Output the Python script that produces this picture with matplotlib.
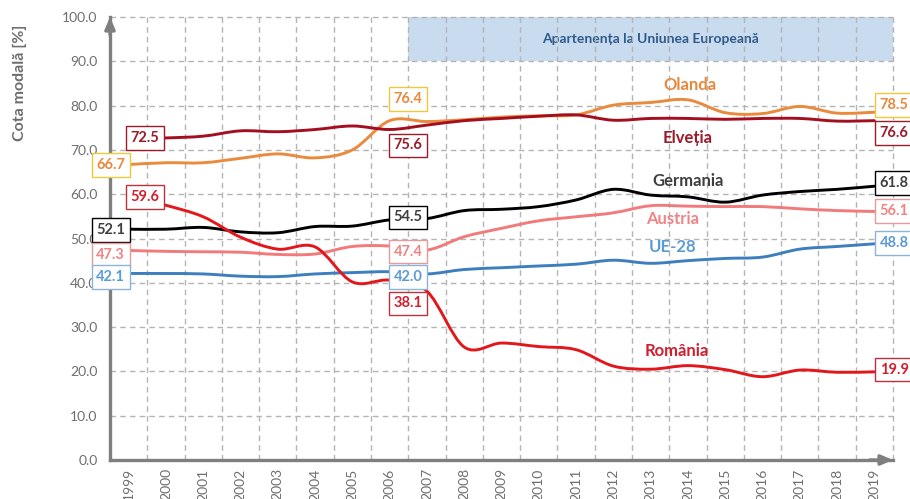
import matplotlib
matplotlib.use("Agg")
import matplotlib.pyplot as plt
from matplotlib.path import Path
from matplotlib.patches import PathPatch, Rectangle

plt.rcParams['font.family'] = ['Lato', 'DejaVu Sans']

years = list(range(1999, 2020))
olanda = [66.7, 67.1, 67.1, 68.1, 69.1, 68.2, 70.0, 76.6, 76.4, 76.8, 77.4, 77.7, 77.9,
          80.1, 80.7, 81.3, 78.4, 78.2, 79.8, 78.3, 78.5]
elvetia = [72.5, 72.7, 73.1, 74.3, 74.1, 74.6, 75.4, 74.6, 75.6, 76.6, 77.1, 77.6, 77.9,
           76.7, 77.1, 77.1, 76.9, 77.1, 77.1, 76.5, 76.6]
germania = [52.1, 52.1, 52.5, 51.5, 51.3, 52.7, 52.8, 54.2, 54.5, 56.3, 56.6, 57.2, 58.7,
            61.1, 59.8, 59.4, 58.2, 59.8, 60.6, 61.1, 61.8]
austria = [47.3, 47.1, 47.0, 46.9, 46.4, 46.5, 48.2, 48.3, 47.4, 50.4, 52.3, 54.0, 54.9,
           55.8, 57.4, 57.3, 57.2, 57.2, 56.7, 56.3, 56.1]
ue28 = [42.1, 42.1, 42.0, 41.5, 41.4, 42.0, 42.3, 42.5, 42.0, 43.0, 43.4, 43.8, 44.2,
        45.1, 44.4, 45.0, 45.5, 45.8, 47.6, 48.2, 48.8]
romania = [59.6, 57.5, 54.9, 50.3, 47.6, 48.1, 40.2, 40.6, 38.1, 25.5, 26.4, 25.6, 24.9,
           21.2, 20.5, 21.3, 20.4, 18.8, 20.3, 19.8, 19.9]

series_names = ["Olanda", "Elveția", "Germania", "Austria", "UE-28", "România"]
line_colors = ["#E98A3C", "#A30F1E", "#000000", "#F27A7A", "#3D7EBE", "#E3161B"]
text_colors = ["#E8893E", "#9C1B2A", "#3F3F3F", "#F08484", "#5B9BD5", "#D0202E"]
box_edges = ["#F0C93A", "#9C1B2A", "#000000", "#E8999B", "#8DB3D9", "#C0303A"]

eu_label = "Apartenența la Uniunea Europeană"
y_label = "Cota modală [%]"


def smooth_path(xs, ys):
    verts = [(xs[0], ys[0])]
    codes = [Path.MOVETO]
    n = len(xs)
    for i in range(n - 1):
        p0 = (xs[max(i - 1, 0)], ys[max(i - 1, 0)])
        p1 = (xs[i], ys[i])
        p2 = (xs[i + 1], ys[i + 1])
        p3 = (xs[min(i + 2, n - 1)], ys[min(i + 2, n - 1)])
        c1 = (p1[0] + (p2[0] - p0[0]) / 6, p1[1] + (p2[1] - p0[1]) / 6)
        c2 = (p2[0] - (p3[0] - p1[0]) / 6, p2[1] - (p3[1] - p1[1]) / 6)
        verts += [c1, c2, p2]
        codes += [Path.CURVE4] * 3
    return Path(verts, codes)


fig = plt.figure(figsize=(9.10, 4.99), dpi=100)
ax = fig.add_axes([110 / 910, 1 - 460 / 499, (893 - 110) / 910, (460 - 17) / 499])
ax.set_xlim(1998.5, 2019.5)
ax.set_ylim(0, 100)

grid_c = "#B4B4B4"
dash = (0, (4, 3))
# EU band
ax.add_patch(Rectangle((2006.5, 90), 13, 10, facecolor="#C8DBEF", edgecolor="none", zorder=0.5))
ax.text(2013.0, 95, eu_label, ha="center", va="center", fontsize=10, fontweight="bold",
        color="#2F5A8A", zorder=1)

for yv in range(10, 101, 10):
    ax.axhline(yv, color=grid_c, lw=1, ls=dash, zorder=1, clip_on=False)
for xv in range(1999, 2020):
    ax.axvline(xv + 0.5, color=grid_c, lw=1, ls=dash, zorder=1, clip_on=False)

all_series = [olanda, elvetia, germania, austria, ue28, romania]
order = [3, 4, 2, 0, 1, 5]
for i in order:
    p = smooth_path(years, all_series[i])
    ax.add_patch(PathPatch(p, fill=False, edgecolor=line_colors[i], lw=2.1,
                           capstyle="round", joinstyle="round", zorder=3))


def vlabel(x, y, txt, i):
    ax.text(x, y, txt, ha="center", va="center", fontsize=10.5, fontweight="bold",
            color=text_colors[i], zorder=6, clip_on=False,
            bbox=dict(boxstyle="square,pad=0.32", fc="white", ec=box_edges[i], lw=1))


left_x = [1998.52, 1999.43, 1998.52, 1998.52, 1998.52, 1999.43]
left_y = [66.6, 72.7, 51.9, 46.3, 41.3, 59.4]
mid_y = [81.5, 71.0, 54.8, 47.0, 41.3, 35.4]
right_y = [80.1, 73.8, 62.5, 56.2, 49.0, 20.4]
for i, s in enumerate(all_series):
    vlabel(left_x[i], left_y[i], f"{s[0]:.1f}", i)
    vlabel(2006.5, mid_y[i], f"{s[8]:.1f}", i)
    vlabel(2019.53, right_y[i], f"{s[-1]:.1f}", i)

name_x = [2014.06, 2014.0, 2014.0, 2013.6, 2013.6, 2013.7]
name_y = [84.6, 72.7, 63.0, 54.4, 48.0, 24.6]
for i, nm in enumerate(series_names):
    ax.text(name_x[i], name_y[i], nm, ha="center", va="center", fontsize=12,
            fontweight="bold", color=text_colors[i], zorder=5)

axis_c = "#7F7F7F"
for s in ["top", "right"]:
    ax.spines[s].set_visible(False)
for s in ["left", "bottom"]:
    ax.spines[s].set_color(axis_c)
    ax.spines[s].set_linewidth(2.4)
    ax.spines[s].set_zorder(4)
ax.annotate("", xy=(0, 1.0), xytext=(0, 0.96), xycoords="axes fraction",
            arrowprops=dict(arrowstyle="-|>,head_length=0.7,head_width=0.3",
                            color=axis_c, lw=2.4, shrinkA=0, shrinkB=0), zorder=4)
ax.annotate("", xy=(1.0, 0), xytext=(0.97, 0), xycoords="axes fraction",
            arrowprops=dict(arrowstyle="-|>,head_length=0.7,head_width=0.3",
                            color=axis_c, lw=2.4, shrinkA=0, shrinkB=0), zorder=4)

ax.set_yticks(range(0, 101, 10))
ax.set_yticklabels([f"{v:.1f}" for v in range(0, 101, 10)])
ax.set_xticks(years)
ax.set_xticklabels([str(y) for y in years], rotation=90)
ax.tick_params(axis="y", length=0, pad=9, labelsize=10, labelcolor="#6E6E6E")
ax.tick_params(axis="x", length=0, pad=6, labelsize=10, labelcolor="#6E6E6E")

fig.text(20 / 910, 1 - 83 / 499, y_label, rotation=90, ha="center", va="center",
         fontsize=11.5, fontweight="bold", color="#6E6E6E")

fig.savefig("out.png", dpi=100)
